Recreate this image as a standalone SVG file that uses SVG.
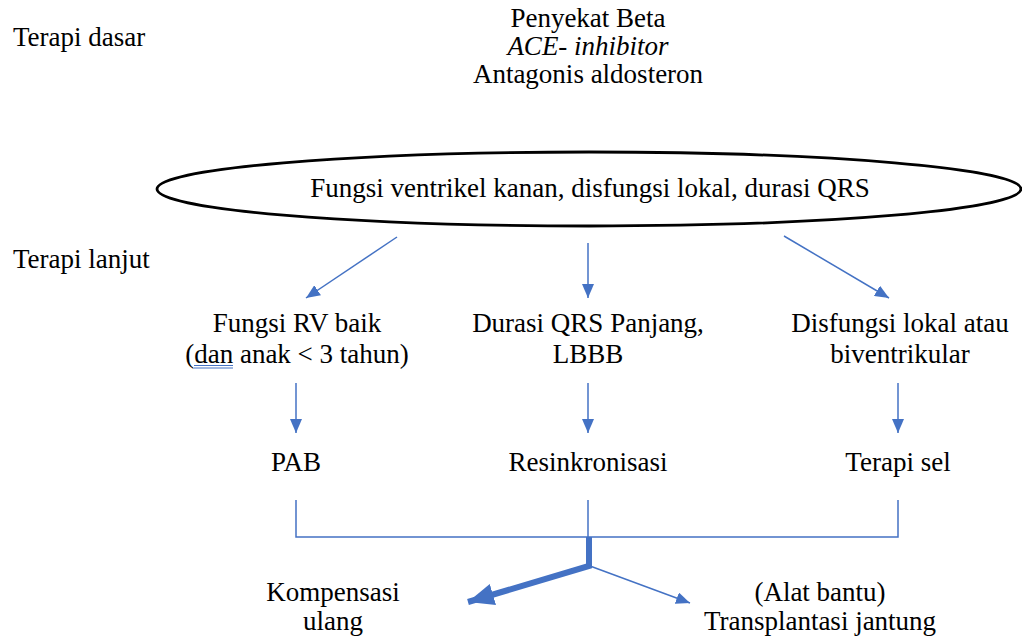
<svg xmlns="http://www.w3.org/2000/svg" width="1022" height="637" viewBox="0 0 1022 637">
  <style>
    text { font-family: 'Liberation Serif', 'Times New Roman', Times, 'DejaVu Serif', serif; font-size: 27px; fill: #000; }
    .c { text-anchor: middle; }
    .wire { fill: none; stroke: #4472C4; stroke-width: 1.5; }
    .thick { fill: none; stroke: #4472C4; stroke-width: 6; stroke-linejoin: miter; }
  </style>
  <defs>
    <marker id="arrow" viewBox="0 0 14 12" refX="14" refY="6" markerWidth="14" markerHeight="12" markerUnits="userSpaceOnUse" orient="auto">
      <path d="M0,0 L14,6 L0,12 z" fill="#4472C4"/>
    </marker>
    <marker id="arrowBig" viewBox="0 0 26 22" refX="26" refY="11" markerWidth="26" markerHeight="22" markerUnits="userSpaceOnUse" orient="auto">
      <path d="M0,0 L26,11 L0,22 z" fill="#4472C4"/>
    </marker>
  </defs>

  <!-- row labels -->
  <g id="label-dasar"><text x="13" y="46">Terapi dasar</text></g>
  <g id="label-lanjut"><text x="13" y="268">Terapi lanjut</text></g>

  <!-- baseline therapy -->
  <g id="terapi-dasar">
    <text class="c" x="588" y="27">Penyekat Beta</text>
    <text class="c" x="588" y="55" font-style="italic">ACE- inhibitor</text>
    <text class="c" x="588" y="83">Antagonis aldosteron</text>
  </g>

  <!-- assessment ellipse -->
  <g id="evaluasi">
    <ellipse cx="589" cy="189" rx="432" ry="37" fill="#fff" stroke="#000" stroke-width="2.8"/>
    <text class="c" x="590" y="197" font-size="27.8">Fungsi ventrikel kanan, disfungsi lokal, durasi QRS</text>
  </g>

  <!-- criteria -->
  <g id="kriteria-rv">
    <text class="c" x="297" y="332">Fungsi RV baik</text>
    <text class="c" x="297" y="363">(dan anak &lt; 3 tahun)</text>
    <path d="M194,365.5 H233 M194,368 H233" stroke="#4472C4" stroke-width="1" fill="none"/>
  </g>
  <g id="kriteria-qrs">
    <text class="c" x="588" y="332">Durasi QRS Panjang,</text>
    <text class="c" x="588" y="363">LBBB</text>
  </g>
  <g id="kriteria-lokal">
    <text class="c" x="900" y="332">Disfungsi lokal atau</text>
    <text class="c" x="900" y="363">biventrikular</text>
  </g>

  <!-- treatments -->
  <g id="pab"><text class="c" x="296" y="471">PAB</text></g>
  <g id="resinkronisasi"><text class="c" x="588" y="471">Resinkronisasi</text></g>
  <g id="terapi-sel"><text class="c" x="898" y="471">Terapi sel</text></g>

  <!-- outcomes -->
  <g id="kompensasi">
    <text class="c" x="333" y="601">Kompensasi</text>
    <text class="c" x="333" y="630">ulang</text>
  </g>
  <g id="transplantasi">
    <text class="c" x="820" y="601">(Alat bantu)</text>
    <text class="c" x="820" y="630">Transplantasi jantung</text>
  </g>

  <!-- connectors -->
  <g id="connectors">
    <line class="wire" x1="397" y1="237" x2="306" y2="298" marker-end="url(#arrow)"/>
    <line class="wire" x1="588" y1="243" x2="588" y2="298" marker-end="url(#arrow)"/>
    <line class="wire" x1="784" y1="236" x2="889" y2="298" marker-end="url(#arrow)"/>

    <line class="wire" x1="296" y1="383" x2="296" y2="433" marker-end="url(#arrow)"/>
    <line class="wire" x1="588" y1="383" x2="588" y2="433" marker-end="url(#arrow)"/>
    <line class="wire" x1="898" y1="383" x2="898" y2="433" marker-end="url(#arrow)"/>

    <polyline class="wire" points="296,500 296,537 898,537 898,500"/>
    <line class="wire" x1="588" y1="500" x2="588" y2="537"/>

    <polyline class="thick" points="589,537 589,566 468,602" marker-end="url(#arrowBig)"/>
    <line class="wire" x1="590" y1="566" x2="690" y2="603" marker-end="url(#arrow)"/>
  </g>
</svg>
